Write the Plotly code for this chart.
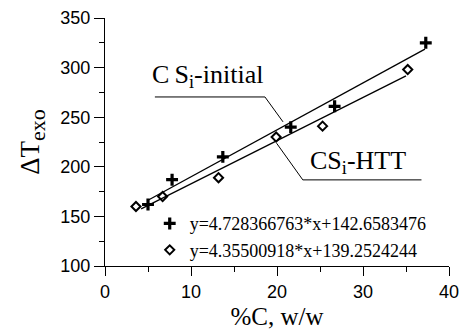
import plotly.graph_objects as go

# --- data ---
x_initial = [5.0, 7.8, 13.7, 21.6, 26.7, 37.3]
y_initial = [162, 187, 210, 240, 261, 325]
x_htt = [3.6, 6.7, 13.2, 19.9, 25.3, 35.2]
y_htt = [160, 170, 189, 230, 241, 298]

fit_initial = (4.728366763, 142.6583476)
fit_htt = (4.35500918, 139.2524244)
fit_initial_x = [5.0, 37.2]
fit_htt_x = [4.2, 35.0]

x_ticks = [0, 10, 20, 30, 40]
y_ticks = [100, 150, 200, 250, 300, 350]

SERIF = "Liberation Serif"
SANS = "Liberation Sans"

fig = go.Figure()

def line_y(fit, xs):
    return [fit[0] * v + fit[1] for v in xs]

fig.add_trace(go.Scatter(x=fit_initial_x, y=line_y(fit_initial, fit_initial_x), mode="lines",
                         line=dict(color="black", width=1.3), showlegend=False, hoverinfo="skip"))
fig.add_trace(go.Scatter(x=fit_htt_x, y=line_y(fit_htt, fit_htt_x), mode="lines",
                         line=dict(color="black", width=1.3), showlegend=False, hoverinfo="skip"))

fig.add_trace(go.Scatter(x=x_initial, y=y_initial, mode="markers",
                         name="y=4.728366763*x+142.6583476",
                         marker=dict(symbol="cross-thin", size=8.5, color="black",
                                     line=dict(color="black", width=3.2))))
fig.add_trace(go.Scatter(x=x_htt, y=y_htt, mode="markers",
                         name="y=4.35500918*x+139.2524244",
                         marker=dict(symbol="diamond-open", size=7, color="black",
                                     line=dict(color="black", width=2))))

# leader lines for labels
fig.add_shape(type="path", xref="x", yref="y",
              path="M 5.8,270.4 L 18.6,270.4 L 20.7,245.3",
              line=dict(color="black", width=1))
fig.add_shape(type="path", xref="x", yref="y",
              path="M 19.95,223.8 L 23.0,186.8 L 36.8,186.8",
              line=dict(color="black", width=1))

fig.add_annotation(x=5.2, y=273, xref="x", yref="y", xanchor="left", yanchor="bottom",
                   text="C\u2009S<sub>i</sub>-initial", showarrow=False,
                   font=dict(family=SERIF, size=26, color="black"))
fig.add_annotation(x=23.6, y=187, xref="x", yref="y", xanchor="left", yanchor="bottom",
                   text="CS<sub>i</sub>-HTT", showarrow=False,
                   font=dict(family=SERIF, size=26, color="black"))

axis_common = dict(showline=True, linecolor="black", linewidth=1.2, ticks="outside",
                   tickcolor="black", tickwidth=1.2, showgrid=False,
                   zeroline=False, mirror=False,
                   tickfont=dict(family=SANS, size=18, color="black"))

fig.update_xaxes(range=[0, 40], tickvals=x_ticks, ticklen=9,
                 minor=dict(ticks="outside", dtick=5, ticklen=5, tickcolor="black", tickwidth=1.2),
                 title=dict(text="%C, w/w", font=dict(family=SERIF, size=25, color="black"), standoff=6),
                 **axis_common)
fig.update_yaxes(range=[100, 350], tickvals=y_ticks, ticklen=10,
                 minor=dict(ticks="outside", dtick=25, ticklen=5, tickcolor="black", tickwidth=1.2),
                 title=dict(text="ΔT<sub><span style='font-size:22px'>exo</span></sub>",
                            font=dict(family=SERIF, size=27, color="black"), standoff=12),
                 **axis_common)

fig.update_layout(
    width=465, height=331,
    margin=dict(l=105, r=16, t=18, b=65, autoexpand=False),
    plot_bgcolor="white", paper_bgcolor="white",
    showlegend=True,
    legend=dict(x=0.13, y=0.245, xanchor="left", yanchor="top",
                bgcolor="rgba(0,0,0,0)", borderwidth=0,
                font=dict(family=SERIF, size=18, color="black"),
                itemsizing="trace", tracegroupgap=0, itemwidth=30),
)

fig.write_html("out.html")
